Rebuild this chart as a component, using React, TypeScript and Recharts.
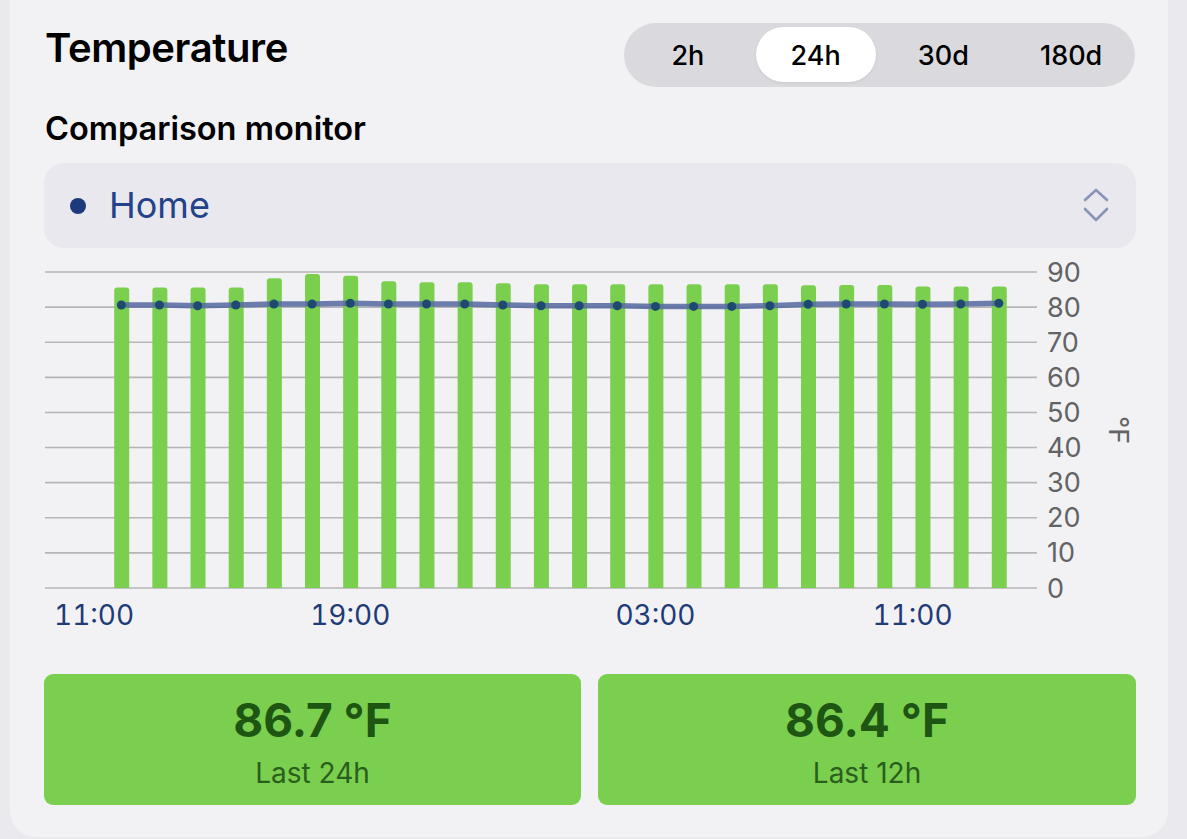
import React from 'react';
import { ComposedChart, Bar, Line, XAxis, YAxis, CartesianGrid } from 'recharts';

// hour slots (0 = 13:00 yesterday ... 23 = 12:00 today)
const hourSlots = [0, 1, 2, 3, 4, 5, 6, 7, 8, 9, 10, 11, 12, 13, 14, 15, 16, 17, 18, 19, 20, 21, 22, 23];
const hourLabels = [
  '13:00', '14:00', '15:00', '16:00', '17:00', '18:00', '19:00', '20:00', '21:00', '22:00', '23:00', '00:00',
  '01:00', '02:00', '03:00', '04:00', '05:00', '06:00', '07:00', '08:00', '09:00', '10:00', '11:00', '12:00',
];
const temps = [
  85.6, 85.6, 85.6, 85.6, 88.2, 89.4, 88.9, 87.4, 87.1, 87.1, 86.8, 86.5,
  86.5, 86.5, 86.5, 86.5, 86.5, 86.5, 86.2, 86.3, 86.3, 85.9, 85.9, 85.9,
];
const comparison = [
  80.6, 80.6, 80.4, 80.6, 80.9, 80.9, 81.1, 80.9, 80.9, 80.9, 80.6, 80.4,
  80.4, 80.4, 80.2, 80.2, 80.2, 80.4, 80.8, 80.9, 80.9, 80.8, 80.9, 81.1,
];
const xTickValues = [-2, 6, 14, 22];
const xTickLabels = ['11:00', '19:00', '03:00', '11:00'];
const yTicks = [0, 10, 20, 30, 40, 50, 60, 70, 80, 90];
const ranges = ['2h', '24h', '30d', '180d'];
const selectedRange = '24h';
const summaryValues = ['86.7 °F', '86.4 °F'];
const summaryLabels = ['Last 24h', 'Last 12h'];

const data = hourSlots.map((h, i) => ({
  slot: h,
  label: hourLabels[i],
  temp: temps[i],
  comparison: comparison[i],
}));

const FONT = 'Inter, "Noto Sans", sans-serif';

const XTick = (props: any) => {
  const { x, y, payload, index } = props;
  const i = xTickValues.indexOf(payload.value);
  const last = xTickValues.length - 1;
  const idx = i >= 0 ? i : index;
  const anchor = idx === 0 ? 'start' : idx === last ? 'end' : 'middle';
  const dx = idx === 0 ? 9 : idx === last ? -8 : 0;
  return (
    <text
      x={x + dx}
      y={y + 29}
      textAnchor={anchor}
      fill="#1f3b78"
      fontSize={28}
      fontFamily={FONT}
      style={{ fontVariantNumeric: 'tabular-nums' }}
    >
      {xTickLabels[idx]}
    </text>
  );
};

const UnitLabel = (props: any) => {
  const vb = props.viewBox || {};
  const cx = vb.x + 81;
  const cy = vb.y + vb.height / 2;
  return (
    <text
      x={cx}
      y={cy}
      transform={`rotate(90, ${cx}, ${cy})`}
      textAnchor="middle"
      dominantBaseline="central"
      fill="#636366"
      fontSize={27}
      fontFamily={FONT}
    >
      °F
    </text>
  );
};

export default function App() {
  return (
    <div
      style={{
        position: 'fixed',
        left: 0,
        top: 0,
        width: 1187,
        height: 839,
        overflow: 'hidden',
        background: '#e9e9ee',
        fontFamily: FONT,
      }}
    >
      {/* card */}
      <div
        style={{
          position: 'absolute',
          left: 10,
          top: -30,
          width: 1158,
          height: 867,
          borderRadius: 26,
          background: '#f2f2f4',
        }}
      />
      {/* title */}
      <div
        style={{
          position: 'absolute',
          left: 45,
          top: 28,
          fontSize: 40,
          lineHeight: 1,
          fontWeight: 600,
          color: '#000',
          letterSpacing: -0.4,
        }}
      >
        Temperature
      </div>
      {/* segmented control */}
      <div
        style={{
          position: 'absolute',
          left: 624,
          top: 23,
          width: 511,
          height: 64,
          borderRadius: 32,
          background: '#dadade',
        }}
      >
        <div
          style={{
            position: 'absolute',
            left: 132,
            top: 4,
            width: 120,
            height: 55,
            borderRadius: 28,
            background: '#ffffff',
            boxShadow: '0 1px 3px rgba(0,0,0,0.08)',
          }}
        />
        {ranges.map((r, i) => (
          <div
            key={r}
            style={{
              position: 'absolute',
              left: i * 127.75,
              top: 0,
              width: 127.75,
              height: 64,
              display: 'flex',
              alignItems: 'center',
              justifyContent: 'center',
              fontSize: 27,
              lineHeight: 1,
              fontWeight: r === selectedRange ? 500 : 500,
              color: '#000',
            }}
          >
            {r}
          </div>
        ))}
      </div>
      {/* subtitle */}
      <div
        style={{
          position: 'absolute',
          left: 45,
          top: 112.5,
          fontSize: 32.5,
          lineHeight: 1,
          fontWeight: 600,
          color: '#000',
        }}
      >
        Comparison monitor
      </div>
      {/* dropdown */}
      <div
        style={{
          position: 'absolute',
          left: 44,
          top: 163,
          width: 1092,
          height: 85,
          borderRadius: 20,
          background: '#e8e8ee',
        }}
      >
        <div
          style={{
            position: 'absolute',
            left: 26,
            top: 35,
            width: 16,
            height: 16,
            borderRadius: 8,
            background: '#1c3a7c',
          }}
        />
        <div
          style={{
            position: 'absolute',
            left: 65,
            top: 24,
            fontSize: 36,
            lineHeight: 1,
            color: '#22428a',
          }}
        >
          Home
        </div>
        <svg
          style={{ position: 'absolute', left: 1038, top: 24 }}
          width={28}
          height={38}
          viewBox="0 0 28 38"
        >
          <polyline points="3,13 14,3 25,13" fill="none" stroke="#8a93b8" strokeWidth={2.6} strokeLinecap="round" strokeLinejoin="round" />
          <polyline points="3,22 14,33 25,22" fill="none" stroke="#8a93b8" strokeWidth={2.6} strokeLinecap="round" strokeLinejoin="round" />
        </svg>
      </div>
      {/* chart */}
      <div style={{ position: 'absolute', left: 0, top: 250 }}>
        <ComposedChart
          width={1187}
          height={400}
          data={data}
          margin={{ top: 22, right: 50, bottom: 12, left: 45 }}
        >
          <CartesianGrid horizontal vertical={false} stroke="#b5b5b9" strokeWidth={1.6} />
          <XAxis
            dataKey="slot"
            type="number"
            domain={[-2, 24]}
            ticks={xTickValues}
            interval={0}
            axisLine={false}
            tickLine={false}
            height={50}
            tick={<XTick />}
          />
          <YAxis
            orientation="right"
            type="number"
            domain={[0, 90]}
            ticks={yTicks}
            interval={0}
            width={100}
            axisLine={false}
            tickLine={false}
            tickMargin={4}
            tick={{ fill: '#636366', fontSize: 27, fontFamily: FONT }}
            label={<UnitLabel />}
          />
          <Bar
            dataKey="temp"
            barSize={15}
            fill="#7acf4e"
            radius={[3, 3, 0, 0]}
            isAnimationActive={false}
          />
          <Line
            dataKey="comparison"
            type="linear"
            stroke="#5568a0"
            strokeOpacity={0.85}
            strokeWidth={5.5}
            dot={{ r: 4.5, fill: '#1f4a6f', stroke: '#1f4a6f', strokeWidth: 0, fillOpacity: 1 }}
            activeDot={false}
            isAnimationActive={false}
          />
        </ComposedChart>
      </div>
      {/* summary boxes */}
      {summaryValues.map((v, i) => (
        <div
          key={i}
          style={{
            position: 'absolute',
            left: i === 0 ? 44 : 598,
            top: 674,
            width: i === 0 ? 537 : 538,
            height: 131,
            borderRadius: 9,
            background: '#7bcf4f',
          }}
        >
          <div
            style={{
              position: 'absolute',
              left: 0,
              right: 0,
              top: 23,
              textAlign: 'center',
              fontSize: 46,
              lineHeight: 1,
              fontWeight: 700,
              color: '#1e5512',
            }}
          >
            {v}
          </div>
          <div
            style={{
              position: 'absolute',
              left: 0,
              right: 0,
              top: 85,
              textAlign: 'center',
              fontSize: 28,
              lineHeight: 1,
              fontWeight: 400,
              color: '#2a5e1c',
            }}
          >
            {summaryLabels[i]}
          </div>
        </div>
      ))}
    </div>
  );
}
